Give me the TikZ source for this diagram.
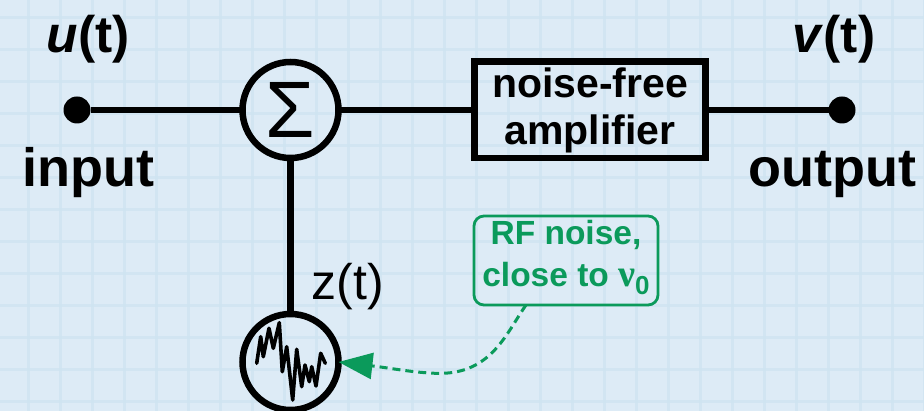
\documentclass[tikz,border=0pt]{standalone}
\usepackage{fontspec}
\setmainfont{Liberation Sans}
\newfontfamily\nufont{Liberation Serif}
\usetikzlibrary{arrows.meta}
\definecolor{bgblue}{HTML}{DDEBF6}
\definecolor{gridblue}{HTML}{CFE4F1}
\definecolor{noisegreen}{HTML}{0B9A5B}
\tikzset{
  wire/.style={line width=6.5pt,black},
  ring/.style={circle,draw=black,line width=6.5pt,minimum size=96pt,inner sep=0pt,outer sep=0pt},
  terminal/.style={circle,fill=black,minimum size=27pt,inner sep=0pt,outer sep=0pt},
  biglabel/.style={anchor=base,inner sep=0pt,font=\fontsize{54}{54}\selectfont\bfseries},
  siglabel/.style={anchor=base,inner sep=0pt,font=\fontsize{51.5}{52}\selectfont\bfseries},
  ampbox/.style={draw=black,line width=6.5pt,minimum width=231pt,minimum height=96.5pt,inner sep=0pt,outer sep=0pt,align=center,font=\fontsize{41}{47}\selectfont\bfseries},
  callout/.style={draw=noisegreen,text=noisegreen,line width=2.8pt,rounded corners=10pt,minimum width=184pt,minimum height=89pt,inner sep=0pt,outer sep=0pt,align=center,font=\fontsize{33.5}{42}\selectfont\bfseries},
  gridline/.style={gridblue,line width=3pt,opacity=0.75},
  noisetrace/.style={black,line width=3.6pt,line join=round,line cap=round},
  noisearrow/.style={noisegreen,line width=3pt,dash pattern=on 8pt off 5pt,-{Triangle[length=34pt,width=26pt]}}
}
\begin{document}
\begin{tikzpicture}[x=1pt,y=-1pt]
\useasboundingbox (0,0) rectangle (924,411);
\fill[bgblue] (0,0) rectangle (924,411);
\foreach \g in {28,60,...,924} \draw[gridline] (\g,0) -- (\g,411);
\foreach \g in {18,50,...,411} \draw[gridline] (0,\g) -- (924,\g);

\node[terminal] (in) at (77,110) {};
\node[terminal] (out) at (842,110) {};
\node[ring] (sum) at (290.5,110) {};
\node[ring] (src) at (290.5,362) {};
\node[ampbox] (amp) at (590,110) {noise-free\\amplifier};
\node[callout] (note) at (566,260.5) {RF noise,\\close to {\nufont\bfseries\fontsize{38}{42}\selectfont ν}\raisebox{-0.22em}{\fontsize{26}{26}\selectfont 0}\rule[-14pt]{0pt}{0pt}};

\node[inner sep=0pt,font=\fontsize{80}{80}\selectfont] (sigma) at (290.5,110) {Σ};

\draw[wire] (in) -- (sum);
\draw[wire] (sum) -- (amp);
\draw[wire] (amp) -- (out);
\draw[wire] (sum) -- (src);

\node[siglabel] (ulab) at (88,53) {\textit{u}(t)};
\node[siglabel] (vlab) at (834,53) {\textit{v}(t)};
\node[biglabel] (inlab) at (88,187) {input};
\node[biglabel] (outlab) at (832,187) {output};
\node[anchor=base,inner sep=0pt,font=\fontsize{50}{50}\selectfont] (zlab) at (348,300) {z(t)};

\draw[noisetrace] (256.7,363.3) -- (260.7,336.7) -- (263.3,356.7) -- (269,328.3) -- (273.3,348.3) -- (279.3,322.7) -- (282.3,371.7) -- (286.7,346.7) -- (292.7,400) -- (296.7,349.3) -- (301.7,386.7) -- (305,365) -- (309.3,381.7) -- (311.7,366.7) -- (316,386) -- (320.7,353.3) -- (325.3,363.3);

\draw[noisearrow] (note.south west) ++(52,0) coordinate (noteout)
  (noteout) .. controls (505,335) and (490,378) .. (430,373) .. controls (410,372) and (390,368) .. (src.east);
\end{tikzpicture}
\end{document}
